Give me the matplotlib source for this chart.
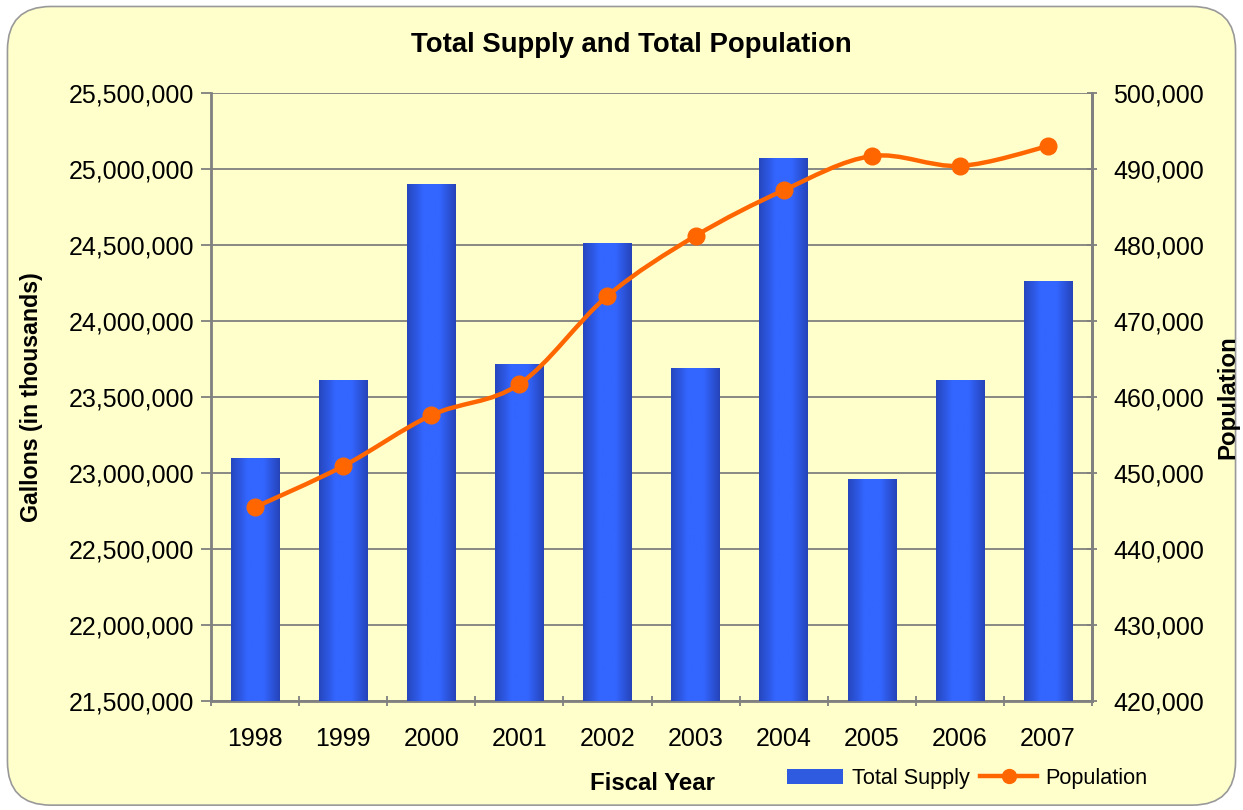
import numpy as np
import matplotlib
matplotlib.use("Agg")
from matplotlib import pyplot as plt
from matplotlib.patches import FancyBboxPatch, Rectangle, PathPatch
from matplotlib.path import Path
from matplotlib.lines import Line2D
from matplotlib.ticker import FuncFormatter
from matplotlib.colors import LinearSegmentedColormap

plt.rcParams['font.family'] = ['Liberation Sans', 'DejaVu Sans']

years = ['1998', '1999', '2000', '2001', '2002', '2003', '2004', '2005', '2006', '2007']
supply = [23100000, 23610000, 24900000, 23720000, 24510000,
          23690000, 25070000, 22960000, 23610000, 24260000]
population = [445500, 450900, 457600, 461700, 473300,
              481200, 487200, 491700, 490400, 493000]

bg = '#FFFFCC'
orange = '#FF6600'
grid_c = '#808080'

fig = plt.figure(figsize=(12.43, 8.10), dpi=100)
fig.patch.set_facecolor('white')
border = FancyBboxPatch((0.006, 0.006), 0.988, 0.986, boxstyle='round,pad=0,rounding_size=0.035',
                        transform=fig.transFigure, facecolor=bg, edgecolor='#999999', lw=1.2,
                        mutation_aspect=1243 / 810, zorder=-10)
fig.patches.append(border)

ax = fig.add_axes([0.1698, 0.1346, 0.7087, 0.7506])
ax.set_facecolor(bg)
x = np.arange(len(years))

# bars with horizontal gradient
bars = ax.bar(x, supply, width=0.55, color='#2E5BE0', zorder=2)
cmap = LinearSegmentedColormap.from_list('bar', ['#2646BE', '#3366FF', '#3366FF', '#2644BA'])
grad = np.linspace(0, 1, 64).reshape(1, -1)
for b in bars:
    x0, y0 = b.get_x(), b.get_y()
    im = ax.imshow(grad, extent=(x0, x0 + b.get_width(), 21500000, y0 + b.get_height()),
                   cmap=cmap, aspect='auto', zorder=3)
    im.set_clip_path(b)

ax.set_xlim(-0.5, len(years) - 0.5)
ax.set_ylim(21500000, 25500000)
ax.set_yticks(np.arange(21500000, 25500001, 500000))
ax.yaxis.set_major_formatter(FuncFormatter(lambda v, p: f'{int(v):,}'))
ax.grid(axis='y', color=grid_c, lw=1.3, zorder=1)
ax.set_axisbelow(True)
ax.set_xticks(x)
ax.set_xticklabels(years)
ax.set_xticks(np.arange(-0.5, len(years)), minor=True)
ax.tick_params(axis='x', which='major', length=0, pad=19, labelsize=18)
ax.tick_params(axis='x', which='minor', length=7, direction='inout', color=grid_c, width=1.3)
ax.tick_params(axis='y', length=7, direction='out', color=grid_c, width=1.3, pad=5, labelsize=18)
for s in ['left', 'bottom', 'right']:
    ax.spines[s].set_color(grid_c)
    ax.spines[s].set_linewidth(2)
ax.spines['top'].set_visible(False)

ax2 = ax.twinx()
ax2.set_ylim(420000, 500000)
ax2.set_yticks(np.arange(420000, 500001, 10000))
ax2.yaxis.set_major_formatter(FuncFormatter(lambda v, p: f'{int(v):,}'))
ax2.tick_params(axis='y', length=7, direction='inout', color=grid_c, width=1.3, pad=12, labelsize=18)
ax2.spines['right'].set_color(grid_c)
ax2.spines['right'].set_linewidth(2)
for s in ['left', 'bottom', 'top']:
    ax2.spines[s].set_visible(False)

# smoothed line (Bezier through points, like a spreadsheet smooth line)
pts = np.column_stack([x, population]).astype(float)
verts = [tuple(pts[0])]
codes = [Path.MOVETO]
n = len(pts)
for i in range(n - 1):
    p0 = pts[max(i - 1, 0)]
    p1 = pts[i]
    p2 = pts[i + 1]
    p3 = pts[min(i + 2, n - 1)]
    c1 = p1 + (p2 - p0) / 6
    c2 = p2 - (p3 - p1) / 6
    verts += [tuple(c1), tuple(c2), tuple(p2)]
    codes += [Path.CURVE4] * 3
ax2.add_patch(PathPatch(Path(verts, codes), facecolor='none', edgecolor=orange, lw=3.2, zorder=4))
ax2.plot(x, population, 'o', color=orange, ms=12, zorder=5)
ax2.set_xlim(-0.5, len(years) - 0.5)

fig.text(0.508, 0.944, 'Total Supply and Total Population', ha='center', va='center',
         fontsize=19.8, fontweight='bold')
fig.text(0.025, 0.51, 'Gallons (in thousands)', rotation=90, ha='center', va='center',
         fontsize=16.7, fontweight='bold')
fig.text(0.988, 0.51, 'Population', rotation=90, ha='center', va='center',
         fontsize=17.3, fontweight='bold')
fig.text(0.525, 0.033, 'Fiscal Year', ha='center', va='center', fontsize=17.3, fontweight='bold')

handles = [Rectangle((0, 0), 1, 1, facecolor='#2E5BE0'),
           Line2D([0], [0], color=orange, lw=3.2, marker='o', ms=10)]
fig.legend(handles, ['Total Supply', 'Population'], loc='center', bbox_to_anchor=(0.778, 0.039),
           ncol=2, frameon=False, fontsize=15.6, handlelength=2.6, handletextpad=0.4, columnspacing=0.5)

fig.savefig('out.png', dpi=100, facecolor=fig.get_facecolor())
